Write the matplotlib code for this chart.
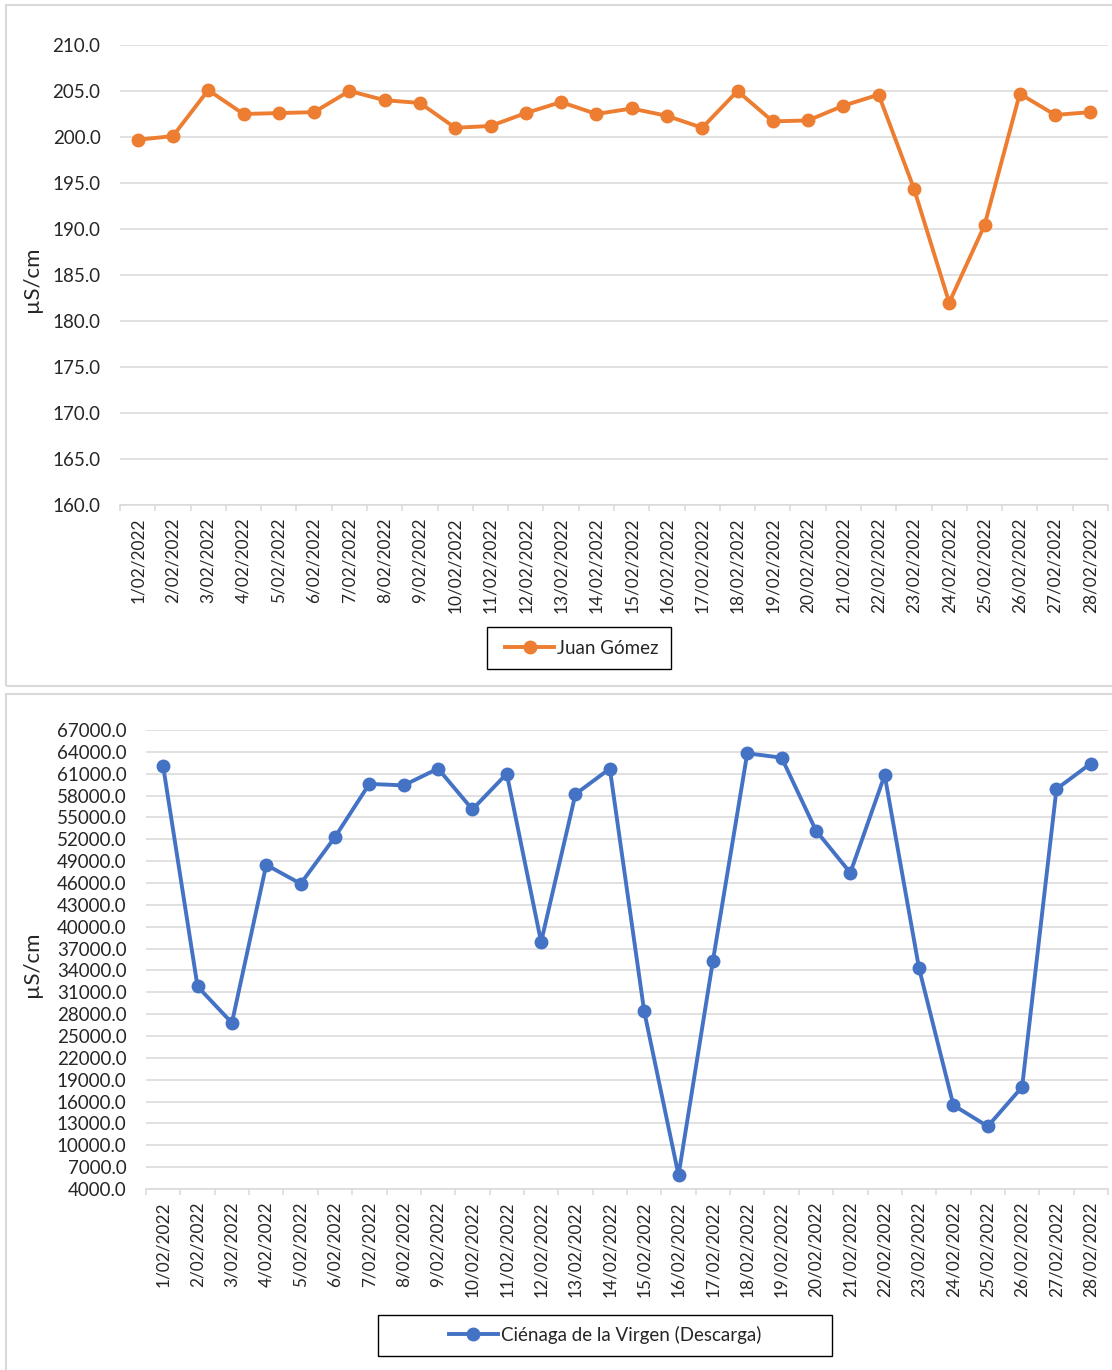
import numpy as np
import matplotlib
matplotlib.use("Agg")
import matplotlib.pyplot as plt
from matplotlib.patches import Rectangle
from matplotlib.ticker import FixedLocator, FormatStrFormatter

plt.rcParams['font.family'] = ['Lato', 'DejaVu Sans']

W, H = 1112, 1370

fechas = [f"{d}/02/2022" for d in range(1, 29)]

juan_gomez = [199.7, 200.1, 205.1, 202.5, 202.6, 202.7, 205.0, 204.0, 203.7, 201.0,
              201.2, 202.6, 203.8, 202.5, 203.1, 202.3, 201.0, 205.0, 201.7, 201.8,
              203.4, 204.6, 194.4, 182.0, 190.4, 204.7, 202.4, 202.7]

cienaga = [62000, 31800, 26800, 48500, 45900, 52300, 59600, 59400, 61700, 56100,
           61000, 37900, 58200, 61700, 28400, 5900, 35300, 63800, 63200, 53200,
           47400, 60800, 34300, 15500, 12600, 18000, 58900, 62400]

top_ticks = np.arange(160, 210.1, 5)
bottom_ticks = np.arange(4000, 67001, 3000)

ORANGE = "#ED7D31"
BLUE = "#4472C4"
GRID = "#D9D9D9"
TEXT = "#262626"


def px_axes(fig, l, t, r, b):
    return fig.add_axes([l / W, 1 - b / H, (r - l) / W, (b - t) / H])


def style(ax, yticks):
    n = len(fechas)
    x = np.arange(n)
    ax.set_xlim(-0.5, n - 0.5)
    ax.set_ylim(yticks[0], yticks[-1])
    ax.set_yticks(yticks)
    ax.yaxis.set_major_formatter(FormatStrFormatter('%.1f'))
    ax.grid(axis='y', color=GRID, linewidth=1.1)
    ax.set_axisbelow(True)
    for s in ('left', 'right', 'top'):
        ax.spines[s].set_visible(False)
    ax.spines['bottom'].set_color(GRID)
    ax.spines['bottom'].set_linewidth(1.1)
    ax.xaxis.set_major_locator(FixedLocator(np.arange(-0.5, n, 1.0)))
    ax.xaxis.set_minor_locator(FixedLocator(x))
    ax.set_xticklabels([])
    ax.set_xticklabels(fechas, minor=True, rotation=90, fontsize=12.4, color=TEXT)
    ax.tick_params(axis='x', which='major', length=4, color=GRID, width=1.1)
    ax.tick_params(axis='x', which='minor', length=0, pad=9)
    ax.tick_params(axis='y', length=0, pad=14, labelsize=13.5, labelcolor=TEXT)
    ax.set_ylabel("µS/cm", fontsize=16, color=TEXT)
    return x


fig = plt.figure(figsize=(W / 100, H / 100), dpi=100)

# panel frames
fig.patches.append(Rectangle((6 / W, 1 - 686 / H), 1.2, (686 - 5) / H,
                             transform=fig.transFigure, fill=False,
                             edgecolor=GRID, linewidth=1.5))
fig.patches.append(Rectangle((6 / W, -0.1), 1.2, 0.1 + (1370 - 694) / H,
                             transform=fig.transFigure, fill=False,
                             edgecolor=GRID, linewidth=1.5))

# Juan Gómez
ax1 = px_axes(fig, 120, 45, 1108, 505)
x = style(ax1, top_ticks)
ax1.plot(x, juan_gomez, color=ORANGE, linewidth=2.8, marker='o',
         markersize=9, label="Juan Gómez")
ax1.yaxis.set_label_coords(-0.079, 0.49)
fig.patches.append(Rectangle((487 / W, 1 - 669 / H), (671 - 487) / W, (669 - 627) / H,
                             transform=fig.transFigure, fill=False,
                             edgecolor='black', linewidth=1.0))
fig.legend(*ax1.get_legend_handles_labels(), loc='center',
           bbox_to_anchor=(582 / W, 1 - 648 / H), frameon=False,
           fontsize=13.5, handlelength=2.6, handletextpad=0.15,
           labelcolor=TEXT)

# Ciénaga de la Virgen
ax2 = px_axes(fig, 146, 730, 1108, 1189)
x = style(ax2, bottom_ticks)
ax2.plot(x, cienaga, color=BLUE, linewidth=2.8, marker='o',
         markersize=9, label="Ciénaga de la Virgen (Descarga)")
ax2.yaxis.set_label_coords(-0.108, 0.49)
fig.patches.append(Rectangle((378 / W, 1 - 1356 / H), (832 - 378) / W, (1356 - 1315) / H,
                             transform=fig.transFigure, fill=False,
                             edgecolor='black', linewidth=1.0))
fig.legend(*ax2.get_legend_handles_labels(), loc='center',
           bbox_to_anchor=(605 / W, 1 - 1335 / H), frameon=False,
           fontsize=13.5, handlelength=2.6, handletextpad=0.15,
           labelcolor=TEXT)

fig.savefig("out.png", dpi=100)
